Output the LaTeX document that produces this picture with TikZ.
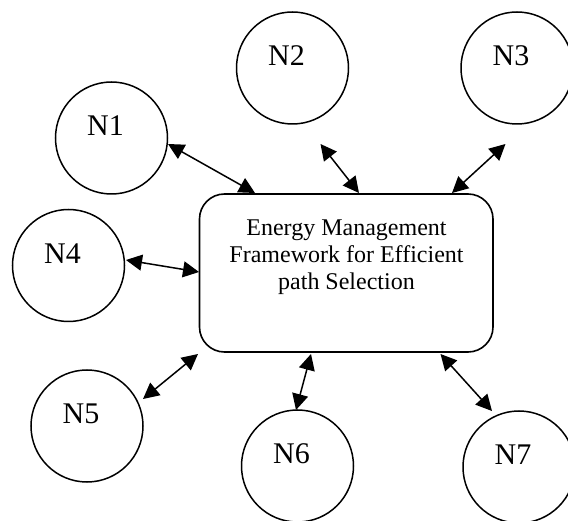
\documentclass[tikz,border=0pt]{standalone}
\usepackage{fontspec}
\setmainfont{Liberation Serif}
\usetikzlibrary{arrows.meta,calc}
\tikzset{
  peer/.style={draw, circle, line width=1.5pt, minimum size=112pt, inner sep=0pt},
  peerlabel/.style={font=\fontsize{30}{34}\selectfont, inner sep=0pt},
  hub/.style={draw, line width=1.6pt, rounded corners=25pt, minimum width=293.5pt, minimum height=158pt, inner sep=0pt},
  hubtext/.style={font=\fontsize{24}{27.3}\selectfont, align=center},
  link/.style={line width=1.5pt, {Triangle[length=16pt,width=16pt]}-{Triangle[length=16pt,width=16pt]}}
}
\begin{document}
\begin{tikzpicture}[x=1pt, y=-1pt]
\useasboundingbox (0,0) rectangle (568,521);

% central framework box and its caption
\node[hub] (fw) at (346.25,273) {};
\node[hubtext] (fwtext) at (346.5,257) {Energy Management\\Framework for Efficient\\path Selection};

% surrounding nodes
\node[peer] (n1) at (111.5,138) {};
\node[peer] (n2) at (292.5,68) {};
\node[peer] (n3) at (517,68) {};
\node[peer] (n4) at (68.5,265.5) {};
\node[peer] (n5) at (87,426) {};
\node[peer] (n6) at (297.5,466) {};
\node[peer] (n7) at (519,467) {};

% node captions, set a little up and left of each centre
\foreach \i in {1,...,7}{
  \node[peerlabel] (t\i) at ($(n\i)+(-6,-12)$) {N\i};
}

% end points of the two-way links (they stop short of the shapes)
\coordinate (a1) at (168,144);  \coordinate (b1) at (255,193);
\coordinate (a2) at (320.5,144);\coordinate (b2) at (359,193);
\coordinate (a3) at (505.5,144);\coordinate (b3) at (452,193);
\coordinate (a4) at (126,260);  \coordinate (b4) at (199,272);
\coordinate (a5) at (143,399);  \coordinate (b5) at (198,354);
\coordinate (a6) at (296,410);  \coordinate (b6) at (311,354);
\coordinate (a7) at (492,411);  \coordinate (b7) at (440.5,354);

\foreach \i in {1,...,7}{
  \draw[link] (a\i) -- (b\i);
}
\end{tikzpicture}
\end{document}
